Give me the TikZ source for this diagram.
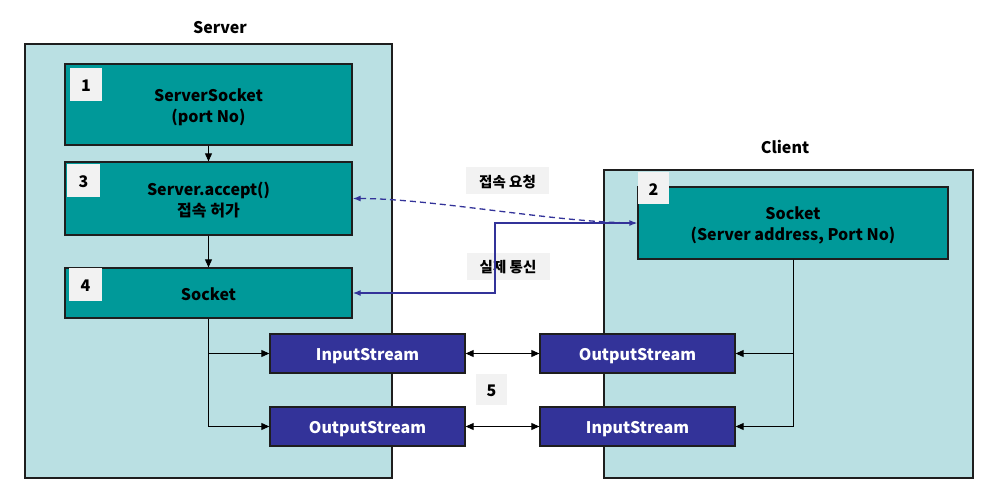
\documentclass[tikz,border=0pt]{standalone}
\usepackage{fontspec}
\setmainfont{Noto Sans CJK KR}
\usetikzlibrary{arrows.meta,calc}
\definecolor{bgc}{RGB}{186,224,227}
\definecolor{teal}{RGB}{0,153,153}
\definecolor{navy}{RGB}{51,51,153}
\definecolor{lbl}{RGB}{242,242,242}
\definecolor{bord}{RGB}{30,30,30}
\newcommand{\tx}[1]{\raisebox{-3pt}[\height][\depth]{\begin{tabular}{@{}c@{}}#1\end{tabular}}}
\tikzset{
  area/.style={draw=bord,line width=1.3pt,fill=bgc,inner sep=0pt},
  tealbox/.style={draw=bord,line width=1.3pt,fill=teal,inner sep=0pt,align=center,font=\bfseries\fontsize{16}{21}\selectfont,text=black},
  streambox/.style={draw=bord,line width=1.3pt,fill=navy,inner sep=0pt,minimum width=195pt,minimum height=39pt,text=white,font=\bfseries\fontsize{16}{21}\selectfont},
  numlbl/.style={fill=lbl,inner sep=0pt,font=\bfseries\fontsize{16}{21}\selectfont},
  tagbox/.style={fill=lbl,inner sep=0pt,minimum width=83pt,minimum height=27pt,font=\bfseries\fontsize{14.5}{18}\selectfont},
  title/.style={font=\bfseries\fontsize{16}{21}\selectfont},
  blk/.style={line width=0.9pt,-{Triangle[length=8pt,width=7pt]}},
  blk2/.style={line width=0.9pt,{Triangle[length=8pt,width=7pt]}-{Triangle[length=8pt,width=7pt]}},
  blu/.style={draw=navy,line width=1.3pt},
}
\begin{document}
\begin{tikzpicture}[x=1pt,y=-1pt]
\useasboundingbox (0,0) rectangle (993,499);
% areas
\node[area,minimum width=367pt,minimum height=434pt] (server) at (208.5,261) {};
\node[area,minimum width=369pt,minimum height=308pt] (client) at (788.5,324) {};
\node[title] (stitle) at (220,26) {\tx{Server}};
\node[title] (ctitle) at (785,146) {\tx{Client}};
% server boxes
\node[tealbox,minimum width=287pt,minimum height=81pt] (b1) at (208.5,104.5) {\tx{ServerSocket\\(port No)}};
\node[tealbox,minimum width=287pt,minimum height=73pt] (b3) at (208.5,198.5) {\tx{Server.accept()\\접속 허가}};
\node[tealbox,minimum width=287pt,minimum height=50pt] (b4) at (208.5,293) {\tx{Socket}};
\node[numlbl,minimum width=32pt,minimum height=33pt] (l1) at (86,84.5) {\tx{1}};
\node[numlbl,minimum width=33pt,minimum height=33pt] (l3) at (83.5,180.5) {\tx{3}};
\node[numlbl,minimum width=33pt,minimum height=33pt] (l4) at (85.5,284.5) {\tx{4}};
% client socket
\node[tealbox,minimum width=310pt,minimum height=72pt] (cs) at (793,223) {\tx{Socket\\(Server address, Port No)}};
\node[numlbl,minimum width=31pt,minimum height=32pt] (l2) at (653.5,188) {\tx{2}};
% streams
\node[streambox] (sin) at (367.5,353.5) {\tx{InputStream}};
\node[streambox] (sout) at (367.5,426.5) {\tx{OutputStream}};
\node[streambox] (cout) at (637.5,353.5) {\tx{OutputStream}};
\node[streambox] (cin) at (637.5,426.5) {\tx{InputStream}};
\node[numlbl,minimum width=31pt,minimum height=31pt] (l5) at (491.5,389.5) {\tx{5}};
% tags
\node[tagbox] (t1) at (507.5,180.5) {\tx{접속 요청}};
\node[tagbox] (t2) at (508,266) {\tx{실제 통신}};
% black connectors
\draw[blk] (b1.south) -- (b3.north);
\draw[blk] (b3.south) -- (b4.north);
\draw[blk] (b4.south) |- (sin.west);
\draw[blk] (b4.south) |- (sout.west);
\draw[blk] (cs.south) |- (cout.east);
\draw[blk] (cs.south) |- (cin.east);
\draw[blk2] (sin.east) -- (cout.west);
\draw[blk2] (sout.east) -- (cin.west);
% blue connectors
\coordinate (kink) at (495,0);
\draw[blu,{Latex[length=8pt,width=6pt]}-{Latex[length=8pt,width=6pt]}] (b4.east) -| (kink |- cs.west) -- (cs.west);
\draw[blu,dash pattern=on 6pt off 4pt,{Latex[length=8pt,width=6pt]}-] (b3.east) .. controls +(80,0) and +(-80,0) .. (cs.west);
\end{tikzpicture}
\end{document}
